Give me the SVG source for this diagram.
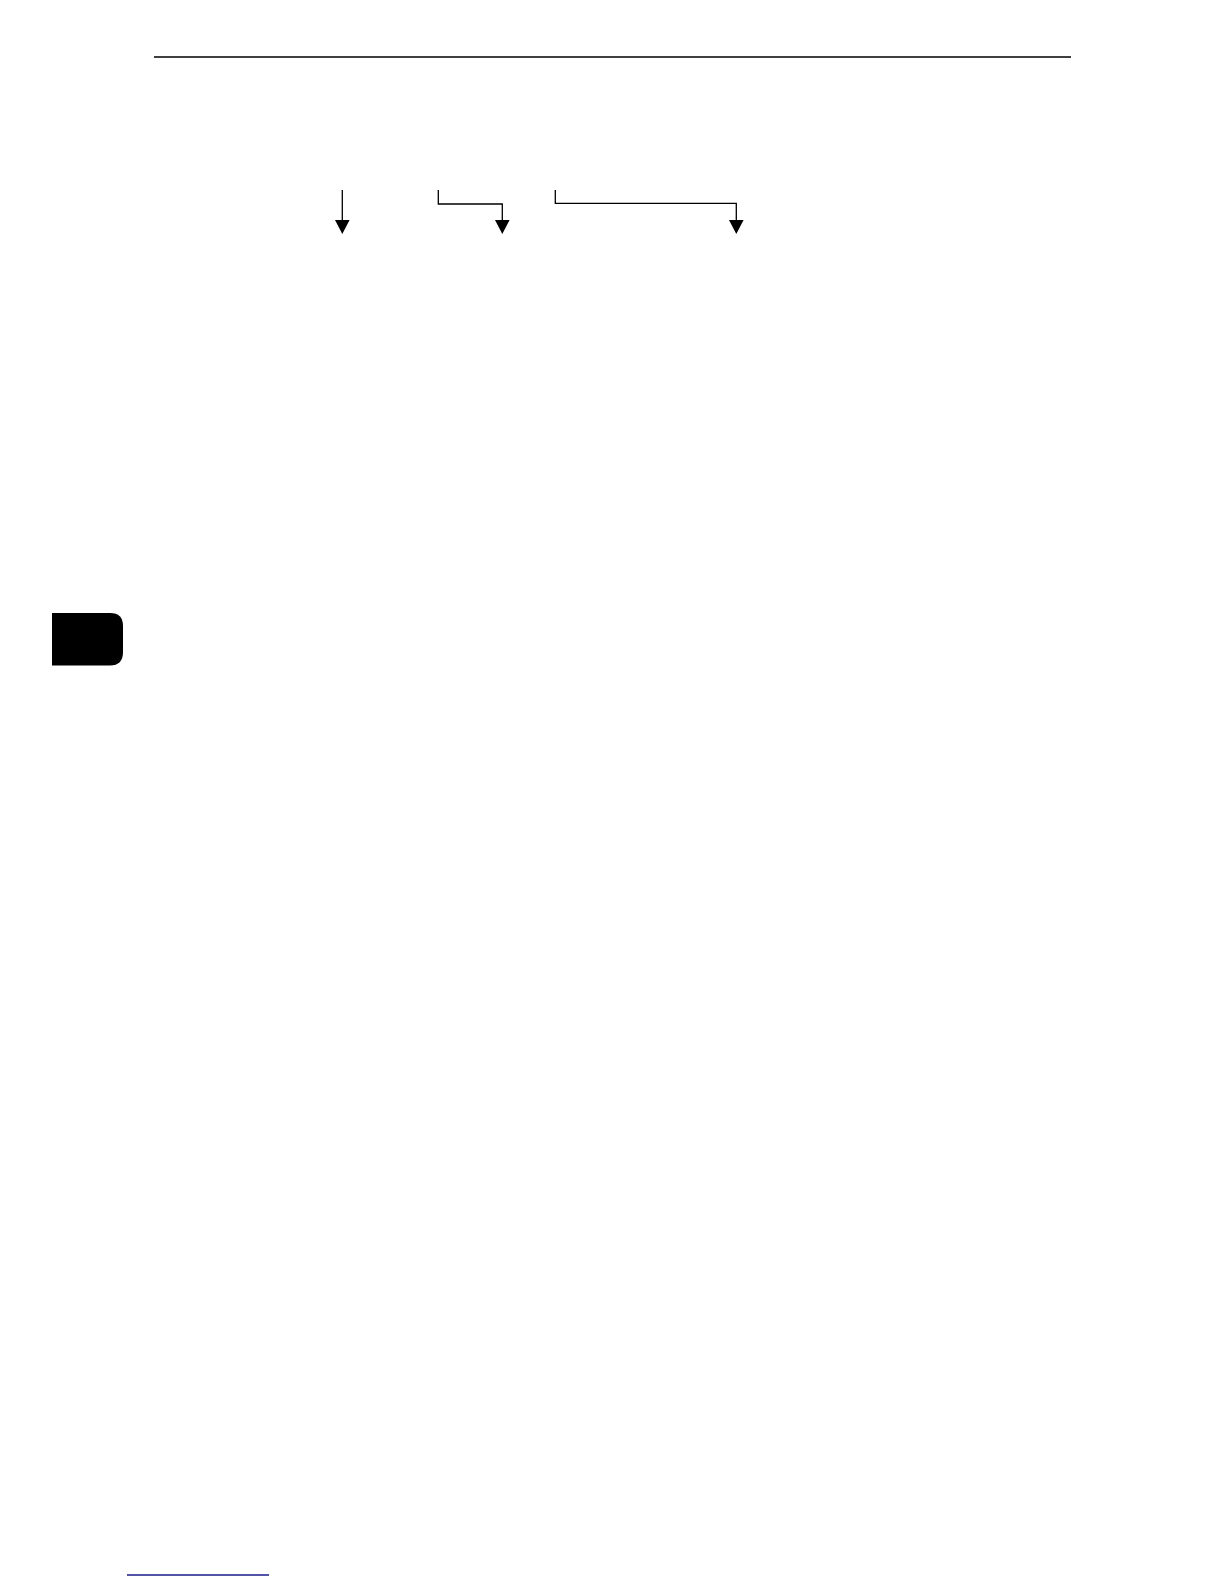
<svg xmlns="http://www.w3.org/2000/svg" width="1224" height="1584" viewBox="0 0 1224 1584">
<style>
.conn{fill:none;stroke:#000;stroke-width:1.3}
.head{fill:#000}
</style>
<rect width="1224" height="1584" fill="#fff"/>
<line id="header-rule" x1="154" y1="57" x2="1071" y2="57" stroke="#000" stroke-width="1.5"/>
<path id="tab" d="M52,613 H110 Q123,613 123,626 V652 Q123,665.5 110,665.5 H52 Z" fill="#000"/>
<line id="footer-rule" x1="127" y1="1575" x2="269" y2="1575" stroke="#1a1a8c" stroke-width="1.3"/>
<g id="connectors">
<path class="conn" d="M342.3,190 V220"/>
<path class="head" d="M335,220 L349.6,220 L342.3,234 Z"/>
<path class="conn" d="M438.3,190 V204 H502.3 V220"/>
<path class="head" d="M495,220 L509.6,220 L502.3,234 Z"/>
<path class="conn" d="M555.3,190 V203.3 H736.3 V220"/>
<path class="head" d="M729,220 L743.6,220 L736.3,234 Z"/>
</g>
</svg>
